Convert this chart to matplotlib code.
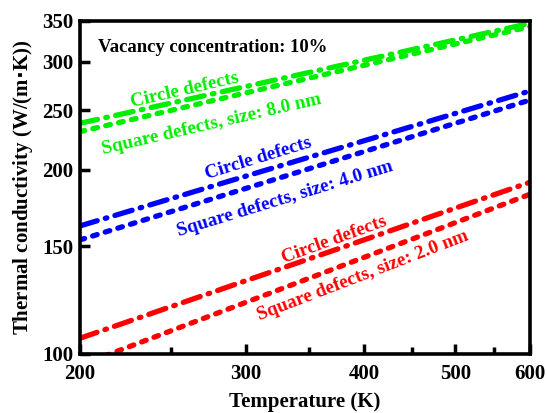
import matplotlib
matplotlib.use("Agg")
import matplotlib.pyplot as plt
from matplotlib.ticker import FixedLocator, FixedFormatter, NullFormatter, NullLocator

plt.rcParams["font.family"] = ["Liberation Serif", "DejaVu Serif"]
plt.rcParams["font.weight"] = "bold"

temps = [200, 300, 400, 500, 600]

# thermal conductivity, W/(m K)
k_circle_8nm = [238.2, 273.6, 301.9, 325.9, 347.0]
k_square_8nm = [230.8, 267.1, 296.2, 321.0, 342.6]
k_circle_4nm = [161.9, 195.3, 223.0, 247.2, 269.0]
k_square_4nm = [153.6, 186.5, 214.1, 238.2, 260.0]
k_circle_2nm = [106.1, 131.8, 153.6, 173.1, 190.8]
k_square_2nm = [95.8, 121.5, 143.8, 163.9, 182.4]

green = "#00ee00"
blue = "#0000ff"
red = "#ff0000"

dashdot = (0, (3.4, 1.6, 0.3, 1.6))
dashed = (0, (0.9, 1.6))

fig = plt.figure(figsize=(5.47, 4.13), dpi=100)
ax = fig.add_axes([0.1463, 0.1429, 0.8227, 0.8063])

series = [
    (k_circle_8nm, green, dashdot),
    (k_square_8nm, green, dashed),
    (k_circle_4nm, blue, dashdot),
    (k_square_4nm, blue, dashed),
    (k_circle_2nm, red, dashdot),
    (k_square_2nm, red, dashed),
]
for vals, c, ls in series:
    ax.plot(temps, vals, color=c, linestyle=ls, linewidth=3.8,
            dash_capstyle="round")

ax.set_xscale("log")
ax.set_yscale("log")
ax.set_xlim(200, 600)
ax.set_ylim(100, 350)

xt = [200, 300, 400, 500, 600]
yt = [100, 150, 200, 250, 300, 350]
ax.xaxis.set_major_locator(FixedLocator(xt))
ax.xaxis.set_major_formatter(FixedFormatter([str(v) for v in xt]))
ax.xaxis.set_minor_locator(FixedLocator([250, 350, 450, 550]))
ax.xaxis.set_minor_formatter(NullFormatter())
ax.yaxis.set_major_locator(FixedLocator(yt))
ax.yaxis.set_major_formatter(FixedFormatter([str(v) for v in yt]))
ax.yaxis.set_minor_locator(NullLocator())

ax.tick_params(which="major", direction="in", length=7, width=2.5, labelsize=15)
ax.tick_params(axis="x", which="major", pad=7)
ax.tick_params(axis="y", which="major", pad=5)
ax.tick_params(which="minor", direction="in", length=5, width=2.5)
for s in ax.spines.values():
    s.set_linewidth(2.6)

ax.set_xlabel("Temperature (K)", fontsize=15, fontweight="bold", labelpad=6)
ax.set_ylabel("Thermal conductivity (W/(m$\\cdot$K))", fontsize=15,
              fontweight="bold", labelpad=5)

ax.text(0.04, 0.908, "Vacancy concentration: 10%", transform=ax.transAxes,
        fontsize=13.4, fontweight="bold", va="baseline", ha="left")

labels = [
    (258.4, 269.4, "Circle defects", green, 13),
    (276.0, 237.6, "Square defects, size: 8.0 nm", green, 13),
    (308.9, 208.2, "Circle defects", blue, 17),
    (329.9, 179.2, "Square defects, size: 4.0 nm", blue, 17),
    (371.8, 153.6, "Circle defects", red, 20),
    (399.1, 134.1, "Square defects, size: 2.0 nm", red, 21),
]
for x, y, t, c, rot in labels:
    ax.text(x, y, t, color=c, fontsize=13.8, fontweight="bold", rotation=rot,
            ha="center", va="center", rotation_mode="anchor")

fig.savefig("out.png", dpi=100)
